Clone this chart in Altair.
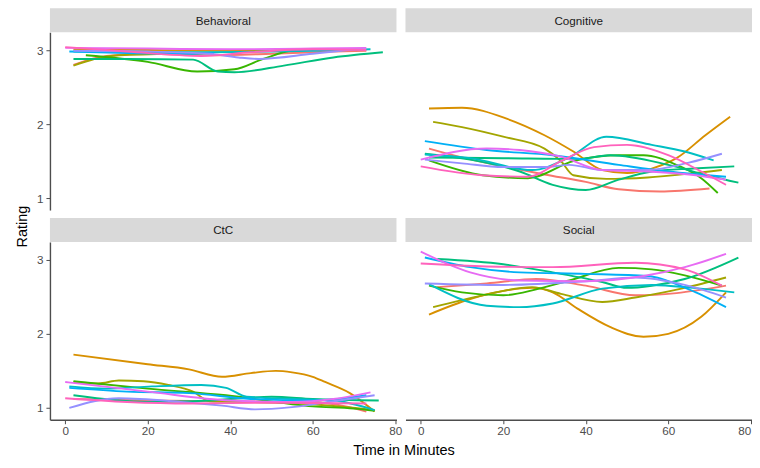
import altair as alt
import pandas as pd

# ggplot hue palette used for participants
COLORS = {
    "salmon": "#F8766D", "orange": "#D89000", "olive": "#A3A500", "green": "#39B600",
    "teal": "#00BF7D", "cyan": "#00BFC4", "blue": "#00B0F6", "purple": "#9590FF",
    "magenta": "#E76BF3", "pink": "#FF62BC",
}

PANELS = ["Behavioral", "Cognitive", "CtC", "Social"]

# ---- Behavioral: series -> (time in minutes, rating)
behavioral_t = {
    "salmon": [2, 10, 20, 35, 50, 65, 73],
    "orange": [2, 20, 40, 60, 72],
    "olive": [2, 11, 25, 34],
    "green": [5, 20, 32, 41, 48, 55, 68],
    "teal": [2, 15, 31, 37, 41, 53, 65, 77],
    "cyan": [2, 30, 60, 74],
    "blue": [1, 15, 30, 36],
    "purple": [2, 20, 35, 42, 47, 60, 72],
    "magenta": [0, 20, 40, 60, 73],
    "pink": [0, 15, 33, 45, 60, 73],
}
behavioral_r = {
    "salmon": [2.80, 2.92, 2.95, 2.93, 2.95, 2.98, 2.99],
    "orange": [3.01, 3.00, 2.99, 3.00, 3.01],
    "olive": [2.79, 2.92, 2.95, 2.96],
    "green": [2.93, 2.84, 2.71, 2.74, 2.88, 2.99, 3.01],
    "teal": [2.88, 2.88, 2.87, 2.71, 2.70, 2.79, 2.90, 2.97],
    "cyan": [2.98, 2.97, 2.99, 3.01],
    "blue": [2.98, 2.96, 2.95, 2.96],
    "purple": [2.99, 2.98, 2.95, 2.90, 2.88, 2.95, 3.02],
    "magenta": [3.03, 3.02, 3.01, 3.02, 3.03],
    "pink": [3.04, 2.98, 2.92, 2.97, 3.01, 3.00],
}

# ---- Cognitive
cognitive_t = {
    "salmon": [2, 10, 20, 30, 40, 48, 58, 70],
    "orange": [2, 10, 21, 30, 37, 44, 50, 56, 62, 69, 75],
    "olive": [3, 10, 20, 30, 34, 37, 45, 55, 65, 73],
    "green": [2, 15, 26, 37, 48, 54, 62, 68, 72],
    "teal": [1, 12, 24, 32, 40, 48, 56, 66, 76],
    "teal2": [2, 20, 38, 46, 60, 70, 77],
    "cyan": [1, 12, 27, 36, 45, 56, 64, 71],
    "blue": [1, 16, 32, 48, 60, 74],
    "purple": [1, 10, 20, 30, 36, 44, 55, 65, 73],
    "magenta": [0, 16, 24, 34, 44, 55, 65, 74],
    "pink": [0, 15, 26, 34, 42, 50, 60, 68, 74],
}
cognitive_r = {
    "salmon": [1.67, 1.55, 1.43, 1.32, 1.22, 1.12, 1.09, 1.13],
    "orange": [2.21, 2.22, 2.07, 1.85, 1.63, 1.38, 1.34, 1.40, 1.54, 1.85, 2.10],
    "olive": [2.03, 1.96, 1.83, 1.67, 1.50, 1.31, 1.26, 1.28, 1.33, 1.38],
    "green": [1.51, 1.31, 1.27, 1.50, 1.58, 1.58, 1.45, 1.27, 1.07],
    "teal": [1.60, 1.52, 1.36, 1.18, 1.11, 1.25, 1.36, 1.40, 1.43],
    "teal2": [1.55, 1.54, 1.53, 1.58, 1.45, 1.30, 1.21],
    "cyan": [1.59, 1.54, 1.38, 1.55, 1.83, 1.72, 1.63, 1.51],
    "blue": [1.77, 1.65, 1.58, 1.45, 1.36, 1.29],
    "purple": [1.52, 1.47, 1.42, 1.42, 1.45, 1.38, 1.38, 1.48, 1.60],
    "magenta": [1.52, 1.67, 1.65, 1.56, 1.38, 1.36, 1.32, 1.25],
    "pink": [1.43, 1.31, 1.29, 1.50, 1.69, 1.72, 1.58, 1.36, 1.18],
}

# ---- CtC
ctc_t = {
    "salmon": [2, 20, 40, 60, 68, 73],
    "orange": [2, 20, 30, 38, 45, 51, 55, 60, 63, 69, 75],
    "olive": [2, 8, 13, 19, 25, 31, 35, 45, 60, 75],
    "green": [2, 20, 39, 60, 70, 75],
    "teal": [2, 20, 35, 50, 60, 76],
    "cyan": [1, 10, 21, 33, 39, 44, 55, 65, 75],
    "blue": [1, 15, 30, 45, 60, 73],
    "purple": [1, 13, 28, 38, 46, 55, 65, 75],
    "magenta": [0, 20, 40, 55, 65, 74],
    "pink": [0, 15, 30, 50, 73],
}
ctc_r = {
    "salmon": [1.12, 1.10, 1.09, 1.08, 1.02, 0.95],
    "orange": [1.72, 1.59, 1.52, 1.42, 1.47, 1.50, 1.48, 1.42, 1.35, 1.20, 0.95],
    "olive": [1.35, 1.33, 1.37, 1.36, 1.31, 1.22, 1.09, 1.08, 1.05, 0.97],
    "green": [1.36, 1.26, 1.17, 1.02, 0.99, 0.96],
    "teal": [1.17, 1.08, 1.10, 1.15, 1.12, 1.10],
    "cyan": [1.29, 1.26, 1.29, 1.31, 1.27, 1.15, 1.12, 1.10, 0.97],
    "blue": [1.27, 1.22, 1.20, 1.12, 1.10, 1.17],
    "purple": [1.00, 1.13, 1.08, 1.03, 0.98, 1.01, 1.09, 1.17],
    "magenta": [1.35, 1.22, 1.10, 1.08, 1.12, 1.21],
    "pink": [1.13, 1.08, 1.06, 1.07, 1.06],
}

# ---- Social
social_t = {
    "salmon": [4, 16, 28, 40, 52, 62, 74],
    "orange": [2, 12, 20, 27, 32, 38, 46, 54, 60, 68, 74],
    "olive": [3, 15, 27, 34, 44, 52, 64, 74],
    "green": [2, 10, 20, 28, 36, 48, 56, 64, 73],
    "teal": [4, 20, 32, 44, 50, 56, 64, 77],
    "cyan": [2, 16, 24, 32, 44, 56, 66, 76],
    "blue": [1, 12, 24, 40, 55, 65, 74],
    "purple": [1, 20, 40, 52, 64, 74],
    "magenta": [0, 12, 24, 40, 54, 64, 74],
    "pink": [0, 16, 32, 52, 64, 73],
}
social_r = {
    "salmon": [2.63, 2.68, 2.74, 2.65, 2.52, 2.55, 2.65],
    "orange": [2.26, 2.47, 2.58, 2.62, 2.56, 2.34, 2.09, 1.96, 2.00, 2.23, 2.56],
    "olive": [2.36, 2.52, 2.63, 2.54, 2.43, 2.49, 2.62, 2.76],
    "green": [2.65, 2.56, 2.52, 2.60, 2.72, 2.89, 2.87, 2.79, 2.65],
    "teal": [3.01, 2.94, 2.83, 2.70, 2.62, 2.65, 2.74, 3.03],
    "cyan": [2.67, 2.38, 2.36, 2.41, 2.61, 2.66, 2.62, 2.56],
    "blue": [3.03, 2.90, 2.83, 2.81, 2.78, 2.60, 2.36],
    "purple": [2.68, 2.66, 2.71, 2.76, 2.66, 2.49],
    "magenta": [3.11, 2.83, 2.72, 2.71, 2.78, 2.90, 3.08],
    "pink": [2.95, 2.91, 2.90, 2.96, 2.87, 2.65],
}

X_TICKS = [0, 20, 40, 60, 80]
Y_TICKS = [1, 2, 3]

SOURCES = {
    "Behavioral": (behavioral_t, behavioral_r),
    "Cognitive": (cognitive_t, cognitive_r),
    "CtC": (ctc_t, ctc_r),
    "Social": (social_t, social_r),
}

rows = []
for panel, (tdict, rdict) in SOURCES.items():
    for s, ts in tdict.items():
        col = COLORS[s.rstrip("2")]
        for t, r in zip(ts, rdict[s]):
            rows.append({"panel": panel, "series": s, "color": col, "t": t, "r": r})
df = pd.DataFrame(rows)

W, H, SH = 347, 178, 24
FONT = "Liberation Sans"
AXCOL = "#4D4D4D"
XDOM = [-3.7, 80.3]
YDOM = [0.84, 3.24]


def strip(name, top_gap=0, sh=SH):
    d = pd.DataFrame({"label": [name]})
    h = sh + top_gap
    rect = alt.Chart(d).mark_rect(color="#D9D9D9").encode(
        x=alt.value(0), x2=alt.value(W), y=alt.value(top_gap), y2=alt.value(h)
    )
    txt = alt.Chart(d).mark_text(font=FONT, fontSize=11.7, color="#1A1A1A").encode(
        text="label:N", x=alt.value(W / 2), y=alt.value(top_gap + sh / 2 + 0.5)
    )
    return alt.layer(rect, txt).properties(width=W, height=h)


def plot(name, show_x, show_y, xtitle=False, ytitle=False, flush_last=False):
    if show_x:
        extra = {}
        if flush_last:
            extra["labelAlign"] = {
                "condition": {"test": "datum.value == 80", "value": "right"},
                "value": "center",
            }
        xaxis = alt.Axis(
            values=X_TICKS, tickSize=4, labelPadding=2, grid=False,
            domainColor=AXCOL, domainWidth=1.4, tickColor=AXCOL,
            labelColor="#4D4D4D", labelFontSize=11.7, labelFont=FONT,
            title="Time in Minutes" if xtitle else None,
            titleFont=FONT, titleFontSize=14.5, titleFontWeight="normal", titleColor="#000000",
            titleX=354, titleY=35, titleBaseline="alphabetic", titleAnchor="start", titleAlign="center",
            **extra,
        )
    else:
        xaxis = None
    if show_y:
        yaxis = alt.Axis(
            values=Y_TICKS, tickSize=4, labelPadding=3, grid=False,
            domainColor=AXCOL, domainWidth=1.4, tickColor=AXCOL,
            labelColor="#4D4D4D", labelFontSize=11.7, labelFont=FONT,
            title="Rating" if ytitle else None,
            titleFont=FONT, titleFontSize=14.5, titleFontWeight="normal", titleColor="#000000",
            titleX=-27, titleY=-16, titleAngle=270, titleBaseline="middle", titleAlign="center",
        )
    else:
        yaxis = None
    return alt.Chart(df[df.panel == name]).mark_line(
        strokeWidth=1.9, interpolate="monotone"
    ).encode(
        x=alt.X("t:Q", scale=alt.Scale(domain=XDOM, nice=False, zero=False), axis=xaxis),
        y=alt.Y("r:Q", scale=alt.Scale(domain=YDOM, nice=False, zero=False), axis=yaxis),
        color=alt.Color("color:N", scale=None),
        detail="series:N",
        order="t:Q",
    ).properties(width=W, height=H)


chart = alt.concat(
    strip("Behavioral"), strip("Cognitive"),
    plot("Behavioral", False, True), plot("Cognitive", False, False),
    strip("CtC", 8), strip("Social", 8),
    plot("CtC", True, True, xtitle=True, ytitle=True), plot("Social", True, False, flush_last=True),
    columns=2,
    spacing={"row": 0, "column": 9},
    bounds="flush",
).properties(
    padding={"left": 7, "top": 0, "right": 0, "bottom": 0},
    background="white",
).configure_view(stroke=None)

chart.save("out.html", embed_options={"renderer": "svg", "actions": False})
